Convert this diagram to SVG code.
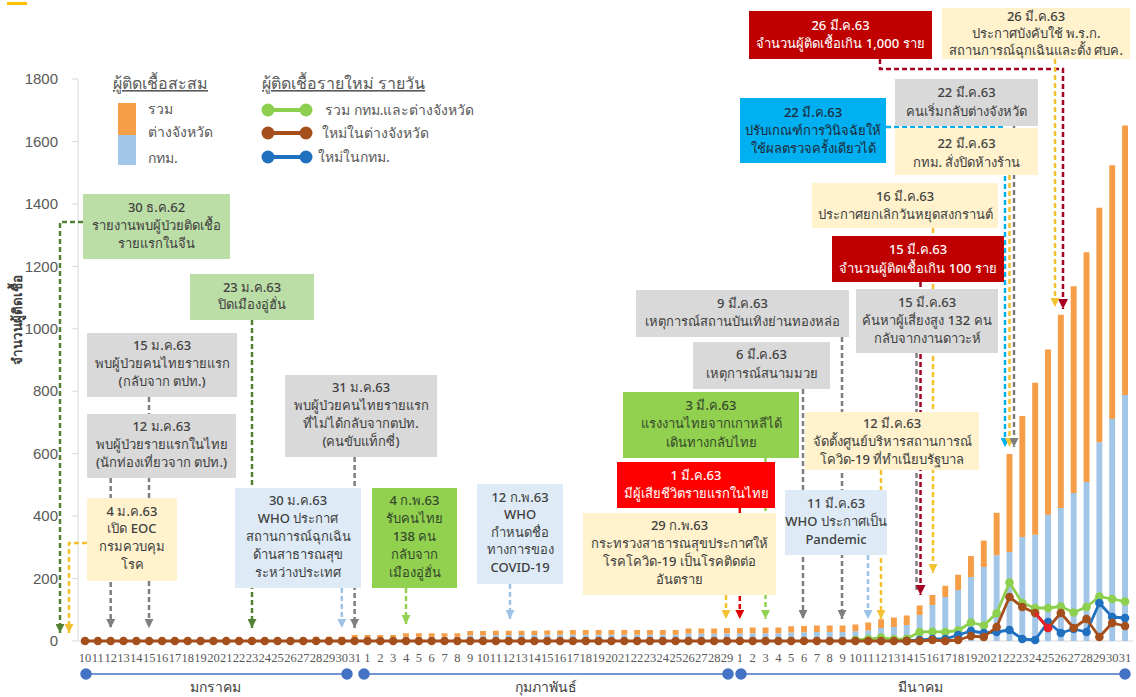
<svg xmlns="http://www.w3.org/2000/svg" width="1136" height="697" viewBox="0 0 1136 697">
<style>
.t{font-family:"Noto Sans","Liberation Sans",sans-serif;font-size:13px;font-weight:500;fill:#404040;text-anchor:middle}
.w{fill:#ffffff}
.ax{font-family:"Liberation Sans",sans-serif;font-size:15px;fill:#595959;text-anchor:end}
.xl{font-family:"Liberation Serif",serif;font-size:12.5px;fill:#595959;text-anchor:middle}
.lg{font-family:"Noto Sans","Liberation Sans",sans-serif;font-size:14px;fill:#595959}
.lt{font-family:"Noto Sans","Liberation Sans",sans-serif;font-size:16px;fill:#595959;text-decoration:underline}
.mo{font-family:"Noto Sans","Liberation Sans",sans-serif;font-size:14px;fill:#404040;text-anchor:middle}
.c{fill:none;stroke-width:2.5;stroke-dasharray:5 3}
.gr{fill:#BBDDA6}.gy{fill:#D9D9D9}.ye{fill:#FFF2CC}.lb{fill:#DEEBF7}.bg{fill:#92D050}.rd{fill:#FF0000}.dr{fill:#C00000}.cy{fill:#00B0F0}
</style>
<defs>
<marker id="a-dg" viewBox="0 0 10 10" refX="10" refY="5" markerUnits="userSpaceOnUse" markerWidth="9" markerHeight="9" orient="auto"><path d="M0,0L10,5L0,10z" fill="#548235"/></marker>
<marker id="a-ye" viewBox="0 0 10 10" refX="10" refY="5" markerUnits="userSpaceOnUse" markerWidth="9" markerHeight="9" orient="auto"><path d="M0,0L10,5L0,10z" fill="#F2C230"/></marker>
<marker id="a-gy" viewBox="0 0 10 10" refX="10" refY="5" markerUnits="userSpaceOnUse" markerWidth="9" markerHeight="9" orient="auto"><path d="M0,0L10,5L0,10z" fill="#7F7F7F"/></marker>
<marker id="a-lb" viewBox="0 0 10 10" refX="10" refY="5" markerUnits="userSpaceOnUse" markerWidth="9" markerHeight="9" orient="auto"><path d="M0,0L10,5L0,10z" fill="#9DC3E6"/></marker>
<marker id="a-bg" viewBox="0 0 10 10" refX="10" refY="5" markerUnits="userSpaceOnUse" markerWidth="9" markerHeight="9" orient="auto"><path d="M0,0L10,5L0,10z" fill="#92D050"/></marker>
<marker id="a-rd" viewBox="0 0 10 10" refX="10" refY="5" markerUnits="userSpaceOnUse" markerWidth="9" markerHeight="9" orient="auto"><path d="M0,0L10,5L0,10z" fill="#E00000"/></marker>
<marker id="a-dr" viewBox="0 0 10 10" refX="10" refY="5" markerUnits="userSpaceOnUse" markerWidth="10" markerHeight="10" orient="auto"><path d="M0,0L10,5L0,10z" fill="#A50021"/></marker>
<marker id="a-cy" viewBox="0 0 10 10" refX="10" refY="5" markerUnits="userSpaceOnUse" markerWidth="9" markerHeight="9" orient="auto"><path d="M0,0L10,5L0,10z" fill="#00B0F0"/></marker>
<marker id="d-g" markerUnits="userSpaceOnUse" markerWidth="10" markerHeight="10" refX="5" refY="5"><circle cx="5" cy="5" r="4.3" fill="#8DCF4E"/></marker>
<marker id="d-b" markerUnits="userSpaceOnUse" markerWidth="10" markerHeight="10" refX="5" refY="5"><circle cx="5" cy="5" r="4.3" fill="#2070C0"/></marker>
<marker id="d-o" markerUnits="userSpaceOnUse" markerWidth="10" markerHeight="10" refX="5" refY="5"><circle cx="5" cy="5" r="4.3" fill="#A44F1C"/></marker>
<marker id="d-r" markerUnits="userSpaceOnUse" markerWidth="10" markerHeight="10" refX="5" refY="5"><circle cx="5" cy="5" r="4.3" fill="#E8202A"/></marker>
</defs>
<rect width="1136" height="697" fill="#ffffff"/>
<rect x="7" y="2" width="20" height="3" fill="#FFC000"/>

<g id="axes">
<line x1="78" y1="79" x2="78" y2="641" stroke="#D9D9D9"/>
<line x1="78" y1="641" x2="1133" y2="641" stroke="#D9D9D9"/>
<path d="M72 79H78M72 141.5H78M72 203.9H78M72 266.4H78M72 328.8H78M72 391.2H78M72 453.7H78M72 516.1H78M72 578.6H78M72 641H78" stroke="#D9D9D9"/>
<text class="ax" x="58" y="84">1800</text>
<text class="ax" x="58" y="146.5">1600</text>
<text class="ax" x="58" y="209">1400</text>
<text class="ax" x="58" y="271.5">1200</text>
<text class="ax" x="58" y="334">1000</text>
<text class="ax" x="58" y="396">800</text>
<text class="ax" x="58" y="458.5">600</text>
<text class="ax" x="58" y="521">400</text>
<text class="ax" x="58" y="583.5">200</text>
<text class="ax" x="58" y="646">0</text>
<text transform="translate(22 320) rotate(-90)" style="font-family:'Noto Sans','Liberation Sans',sans-serif;font-size:13.5px;font-weight:700;fill:#404040;text-anchor:middle">จำนวนผู้ติดเชื้อ</text>
</g>

<g id="bars" transform="translate(85 641) scale(12.84 -0.3122)">
<path fill="#A2C6E8" d="M11.77 0h.46v2h-.46zM12.77 0h.46v2h-.46zM13.77 0h.46v3h-.46zM14.77 0h.46v4h-.46zM15.77 0h.46v5h-.46zM16.77 0h.46v5h-.46zM17.77 0h.46v8h-.46zM18.77 0h.46v8h-.46zM19.77 0h.46v8h-.46zM20.77 0h.46v11h-.46zM21.77 0h.46v11h-.46zM22.77 0h.46v11h-.46zM23.77 0h.46v11h-.46zM24.77 0h.46v14h-.46zM25.77 0h.46v14h-.46zM26.77 0h.46v14h-.46zM27.77 0h.46v14h-.46zM28.77 0h.46v14h-.46zM29.77 0h.46v18h-.46zM30.77 0h.46v18h-.46zM31.77 0h.46v19h-.46zM32.77 0h.46v19h-.46zM33.77 0h.46v19h-.46zM34.77 0h.46v19h-.46zM35.77 0h.46v20h-.46zM36.77 0h.46v20h-.46zM37.77 0h.46v20h-.46zM38.77 0h.46v20h-.46zM39.77 0h.46v20h-.46zM40.77 0h.46v20h-.46zM41.77 0h.46v20h-.46zM42.77 0h.46v20h-.46zM43.77 0h.46v20h-.46zM44.77 0h.46v20h-.46zM45.77 0h.46v20h-.46zM46.77 0h.46v23h-.46zM47.77 0h.46v23h-.46zM48.77 0h.46v23h-.46zM49.77 0h.46v24h-.46zM50.77 0h.46v24h-.46zM51.77 0h.46v25h-.46zM52.77 0h.46v25h-.46zM53.77 0h.46v25h-.46zM54.77 0h.46v27h-.46zM55.77 0h.46v28h-.46zM56.77 0h.46v29h-.46zM57.77 0h.46v29h-.46zM58.77 0h.46v29h-.46zM59.77 0h.46v31h-.46zM60.77 0h.46v34h-.46zM61.77 0h.46v42h-.46zM62.77 0h.46v45h-.46zM63.77 0h.46v51h-.46zM64.77 0h.46v83h-.46zM65.77 0h.46v115h-.46zM66.77 0h.46v141h-.46zM67.77 0h.46v163h-.46zM68.77 0h.46v205h-.46zM69.77 0h.46v237h-.46zM70.77 0h.46v275h-.46zM71.77 0h.46v285h-.46zM72.77 0h.46v333h-.46zM73.77 0h.46v340h-.46zM74.77 0h.46v404h-.46zM75.77 0h.46v426h-.46zM76.77 0h.46v474h-.46zM77.77 0h.46v509h-.46zM78.77 0h.46v637h-.46zM79.77 0h.46v711h-.46zM80.77 0h.46v788h-.46z"/>
<path fill="#F59E47" d="M11.77 2h.46v2h-.46zM12.77 2h.46v2h-.46zM13.77 3h.46v2h-.46zM14.77 4h.46v3h-.46zM15.77 5h.46v3h-.46zM16.77 5h.46v3h-.46zM17.77 8h.46v6h-.46zM18.77 8h.46v6h-.46zM19.77 8h.46v6h-.46zM20.77 11h.46v8h-.46zM21.77 11h.46v8h-.46zM22.77 11h.46v8h-.46zM23.77 11h.46v8h-.46zM24.77 14h.46v11h-.46zM25.77 14h.46v11h-.46zM26.77 14h.46v11h-.46zM27.77 14h.46v11h-.46zM28.77 14h.46v11h-.46zM29.77 18h.46v14h-.46zM30.77 18h.46v14h-.46zM31.77 19h.46v14h-.46zM32.77 19h.46v14h-.46zM33.77 19h.46v14h-.46zM34.77 19h.46v14h-.46zM35.77 20h.46v14h-.46zM36.77 20h.46v14h-.46zM37.77 20h.46v15h-.46zM38.77 20h.46v15h-.46zM39.77 20h.46v15h-.46zM40.77 20h.46v15h-.46zM41.77 20h.46v15h-.46zM42.77 20h.46v15h-.46zM43.77 20h.46v15h-.46zM44.77 20h.46v15h-.46zM45.77 20h.46v15h-.46zM46.77 23h.46v17h-.46zM47.77 23h.46v17h-.46zM48.77 23h.46v17h-.46zM49.77 24h.46v18h-.46zM50.77 24h.46v18h-.46zM51.77 25h.46v18h-.46zM52.77 25h.46v18h-.46zM53.77 25h.46v18h-.46zM54.77 27h.46v20h-.46zM55.77 28h.46v20h-.46zM56.77 29h.46v21h-.46zM57.77 29h.46v21h-.46zM58.77 29h.46v21h-.46zM59.77 31h.46v22h-.46zM60.77 34h.46v25h-.46zM61.77 42h.46v28h-.46zM62.77 45h.46v30h-.46zM63.77 51h.46v31h-.46zM64.77 83h.46v31h-.46zM65.77 115h.46v32h-.46zM66.77 141h.46v36h-.46zM67.77 163h.46v49h-.46zM68.77 205h.46v67h-.46zM69.77 237h.46v85h-.46zM70.77 275h.46v136h-.46zM71.77 285h.46v314h-.46zM72.77 333h.46v388h-.46zM73.77 340h.46v487h-.46zM74.77 404h.46v530h-.46zM75.77 426h.46v619h-.46zM76.77 474h.46v662h-.46zM77.77 509h.46v736h-.46zM78.77 637h.46v751h-.46zM79.77 711h.46v813h-.46zM80.77 788h.46v863h-.46z"/>
</g>

<g id="daily-lines" fill="none" stroke-width="2.8" stroke-linejoin="round">
<polyline stroke="#8DCF4E" marker-start="url(#d-g)" marker-mid="url(#d-g)" marker-end="url(#d-g)" points="855.4,640 868.24,639.1 881.08,637.6 893.92,639.4 906.76,638.8 919.6,632 932.44,631.7 945.28,632 958.12,630.5 970.96,622.5 983.8,625.5 996.64,613.2 1009.48,582.5 1022.32,603 1035.16,608 1048,608 1060.84,606.5 1073.68,612.5 1086.52,607 1099.36,596.5 1112.2,599 1125.04,601.5"/>
<polyline stroke="#2070C0" marker-start="url(#d-b)" marker-mid="url(#d-b)" marker-end="url(#d-b)" points="906.76,641 919.6,640 932.44,639 945.28,639 958.12,635 970.96,631 983.8,633 996.64,632 1009.48,630 1022.32,639 1035.16,640 1048,622 1060.84,633 1073.68,629 1086.52,632 1099.36,603 1112.2,617 1125.04,618"/>
<line x1="85" y1="641" x2="907" y2="641" stroke="#A44F1C"/>
<line x1="85" y1="641" x2="907.5" y2="641" stroke="#A44F1C" stroke-width="8.6" stroke-linecap="round" stroke-dasharray="0 12.84"/>
<polyline stroke="#A44F1C" marker-start="url(#d-o)" marker-mid="url(#d-o)" marker-end="url(#d-o)" points="906.76,641 919.6,641 932.44,640 945.28,641 958.12,640 970.96,636 983.8,637 996.64,627 1009.48,597 1022.32,607 1035.16,613 1048,628 1060.84,613 1073.68,628 1086.52,619 1099.36,637 1112.2,623 1125.04,626"/>
<line x1="1035.16" y1="613" x2="1048" y2="628" stroke="#E8202A" marker-end="url(#d-r)"/>
</g>

<g id="x-axis">
<text class="xl" x="85" y="662">10</text><text class="xl" x="97.84" y="662">11</text><text class="xl" x="110.68" y="662">12</text><text class="xl" x="123.52" y="662">13</text><text class="xl" x="136.36" y="662">14</text><text class="xl" x="149.2" y="662">15</text><text class="xl" x="162.04" y="662">16</text><text class="xl" x="174.88" y="662">17</text><text class="xl" x="187.72" y="662">18</text><text class="xl" x="200.56" y="662">19</text><text class="xl" x="213.4" y="662">20</text><text class="xl" x="226.24" y="662">21</text><text class="xl" x="239.08" y="662">22</text><text class="xl" x="251.92" y="662">23</text><text class="xl" x="264.76" y="662">24</text><text class="xl" x="277.6" y="662">25</text><text class="xl" x="290.44" y="662">26</text><text class="xl" x="303.28" y="662">27</text><text class="xl" x="316.12" y="662">28</text><text class="xl" x="328.96" y="662">29</text><text class="xl" x="341.8" y="662">30</text><text class="xl" x="354.64" y="662">31</text>
<text class="xl" x="367.48" y="662">1</text><text class="xl" x="380.32" y="662">2</text><text class="xl" x="393.16" y="662">3</text><text class="xl" x="406" y="662">4</text><text class="xl" x="418.84" y="662">5</text><text class="xl" x="431.68" y="662">6</text><text class="xl" x="444.52" y="662">7</text><text class="xl" x="457.36" y="662">8</text><text class="xl" x="470.2" y="662">9</text><text class="xl" x="483.04" y="662">10</text><text class="xl" x="495.88" y="662">11</text><text class="xl" x="508.72" y="662">12</text><text class="xl" x="521.56" y="662">13</text><text class="xl" x="534.4" y="662">14</text><text class="xl" x="547.24" y="662">15</text><text class="xl" x="560.08" y="662">16</text><text class="xl" x="572.92" y="662">17</text><text class="xl" x="585.76" y="662">18</text><text class="xl" x="598.6" y="662">19</text><text class="xl" x="611.44" y="662">20</text><text class="xl" x="624.28" y="662">21</text><text class="xl" x="637.12" y="662">22</text><text class="xl" x="649.96" y="662">23</text><text class="xl" x="662.8" y="662">24</text><text class="xl" x="675.64" y="662">25</text><text class="xl" x="688.48" y="662">26</text><text class="xl" x="701.32" y="662">27</text><text class="xl" x="714.16" y="662">28</text><text class="xl" x="727" y="662">29</text>
<text class="xl" x="739.84" y="662">1</text><text class="xl" x="752.68" y="662">2</text><text class="xl" x="765.52" y="662">3</text><text class="xl" x="778.36" y="662">4</text><text class="xl" x="791.2" y="662">5</text><text class="xl" x="804.04" y="662">6</text><text class="xl" x="816.88" y="662">7</text><text class="xl" x="829.72" y="662">8</text><text class="xl" x="842.56" y="662">9</text><text class="xl" x="855.4" y="662">10</text><text class="xl" x="868.24" y="662">11</text><text class="xl" x="881.08" y="662">12</text><text class="xl" x="893.92" y="662">13</text><text class="xl" x="906.76" y="662">14</text><text class="xl" x="919.6" y="662">15</text><text class="xl" x="932.44" y="662">16</text><text class="xl" x="945.28" y="662">17</text><text class="xl" x="958.12" y="662">18</text><text class="xl" x="970.96" y="662">19</text><text class="xl" x="983.8" y="662">20</text><text class="xl" x="996.64" y="662">21</text><text class="xl" x="1009.48" y="662">22</text><text class="xl" x="1022.32" y="662">23</text><text class="xl" x="1035.16" y="662">24</text><text class="xl" x="1048" y="662">25</text><text class="xl" x="1060.84" y="662">26</text><text class="xl" x="1073.68" y="662">27</text><text class="xl" x="1086.52" y="662">28</text><text class="xl" x="1099.36" y="662">29</text><text class="xl" x="1112.2" y="662">30</text><text class="xl" x="1125.04" y="662">31</text>
<g stroke="#4472C4" stroke-width="1.5" fill="#4472C4">
<line x1="86" y1="674" x2="347" y2="674"/><circle cx="86" cy="674" r="5"/><circle cx="347" cy="674" r="5"/>
<line x1="364" y1="674" x2="728" y2="674"/><circle cx="364" cy="674" r="5"/><circle cx="728" cy="674" r="5"/>
<line x1="741" y1="674" x2="1125" y2="674"/><circle cx="741" cy="674" r="5"/><circle cx="1125" cy="674" r="5"/>
</g>
<text class="mo" x="215" y="692">มกราคม</text>
<text class="mo" x="546" y="692">กุมภาพันธ์</text>
<text class="mo" x="920" y="692">มีนาคม</text>
</g>

<g id="legend">
<text class="lt" x="113" y="89">ผู้ติดเชื้อสะสม</text>
<rect x="118" y="103" width="18" height="32" fill="#F59E47"/>
<rect x="118" y="135" width="18" height="30" fill="#A2C6E8"/>
<text class="lg" x="148" y="114">รวม</text>
<text class="lg" x="148" y="137">ต่างจังหวัด</text>
<text class="lg" x="148" y="163">กทม.</text>
<text class="lt" x="262" y="89">ผู้ติดเชื้อรายใหม่ รายวัน</text>
<g stroke-width="4">
<line x1="268" y1="110" x2="306" y2="110" stroke="#8DCF4E"/><circle cx="268" cy="110" r="6.5" fill="#8DCF4E"/><circle cx="306" cy="110" r="6.5" fill="#8DCF4E"/>
<line x1="268" y1="133" x2="306" y2="133" stroke="#A44F1C"/><circle cx="268" cy="133" r="6.5" fill="#A44F1C"/><circle cx="306" cy="133" r="6.5" fill="#A44F1C"/>
<line x1="268" y1="157" x2="306" y2="157" stroke="#2070C0"/><circle cx="268" cy="157" r="6.5" fill="#2070C0"/><circle cx="306" cy="157" r="6.5" fill="#2070C0"/>
</g>
<text class="lg" x="325" y="115">รวม กทม.และต่างจังหวัด</text>
<text class="lg" x="322" y="138">ใหม่ในต่างจังหวัด</text>
<text class="lg" x="318" y="162">ใหม่ในกทม.</text>
</g>

<g id="connectors" class="c">
<path class="c" stroke="#548235" marker-end="url(#a-dg)" d="M83,222H60V633"/>
<path class="c" stroke="#F2C230" marker-end="url(#a-ye)" d="M87,543H69V633"/>
<path class="c" stroke="#7F7F7F" marker-end="url(#a-gy)" d="M110.7,478V628"/>
<path class="c" stroke="#7F7F7F" marker-end="url(#a-gy)" d="M149,397V628"/>
<path class="c" stroke="#548235" marker-end="url(#a-dg)" d="M252,320V628"/>
<path class="c" stroke="#9DC3E6" marker-end="url(#a-lb)" d="M341.8,588V628"/>
<path class="c" stroke="#7F7F7F" marker-end="url(#a-gy)" d="M354.6,457V628"/>
<path class="c" stroke="#92D050" marker-end="url(#a-bg)" d="M406,588V624"/>
<path class="c" stroke="#9DC3E6" marker-end="url(#a-lb)" d="M510,584V619"/>
<path class="c" stroke="#F2C230" marker-end="url(#a-ye)" d="M726,595V619"/>
<path class="c" stroke="#E00000" marker-end="url(#a-rd)" d="M739.8,508V619"/>
<path class="c" stroke="#92D050" marker-end="url(#a-bg)" d="M765.5,458V619"/>
<path class="c" stroke="#7F7F7F" marker-end="url(#a-gy)" d="M803,389V619"/>
<path class="c" stroke="#7F7F7F" marker-end="url(#a-gy)" d="M842,337V619"/>
<path class="c" stroke="#9DC3E6" marker-end="url(#a-lb)" d="M868,555V619"/>
<path class="c" stroke="#F2C230" marker-end="url(#a-ye)" d="M881,470V619"/>
<path class="c" stroke="#7F7F7F" d="M916.5,353V590"/>
<path class="c" stroke="#A50021" marker-end="url(#a-dr)" d="M920.5,282V595"/>
<path class="c" stroke="#F2C230" marker-end="url(#a-ye)" d="M933,228V573"/>
<path class="c" stroke="#00B0F0" marker-end="url(#a-cy)" d="M886,127H1005V447"/>
<path class="c" stroke="#F2C230" marker-end="url(#a-ye)" d="M1009.5,175V447"/>
<path class="c" stroke="#7F7F7F" marker-end="url(#a-gy)" d="M1014,126V447"/>
<path class="c" stroke="#A50021" stroke-width="3" stroke-dasharray="7 4" marker-end="url(#a-dr)" d="M880,59V69H1063V309"/>
<path class="c" stroke="#F2C230" marker-end="url(#a-ye)" d="M1055,59V307"/>
</g>

<g id="n-30dec"><rect class="gr" x="83" y="194" width="147" height="65"/><text class="t"><tspan x="156.5" y="212">30 ธ.ค.62</tspan><tspan x="156.5" y="230">รายงานพบผู้ป่วยติดเชื้อ</tspan><tspan x="156.5" y="248">รายแรกในจีน</tspan></text></g>
<g id="n-23jan"><rect class="gr" x="190" y="274" width="124" height="46"/><text class="t"><tspan x="252" y="292">23 ม.ค.63</tspan><tspan x="252" y="309">ปิดเมืองอู่ฮั่น</tspan></text></g>
<g id="n-15jan"><rect class="gy" x="87" y="333" width="150" height="64"/><text class="t"><tspan x="162" y="350">15 ม.ค.63</tspan><tspan x="162" y="368">พบผู้ป่วยคนไทยรายแรก</tspan><tspan x="162" y="386">(กลับจาก ตปท.)</tspan></text></g>
<g id="n-12jan"><rect class="gy" x="87" y="414" width="149" height="64"/><text class="t"><tspan x="161.5" y="431">12 ม.ค.63</tspan><tspan x="161.5" y="449">พบผู้ป่วยรายแรกในไทย</tspan><tspan x="161.5" y="467">(นักท่องเที่ยวจาก ตปท.)</tspan></text></g>
<g id="n-4jan"><rect class="ye" x="87" y="498" width="90" height="83"/><text class="t"><tspan x="132" y="516">4 ม.ค.63</tspan><tspan x="132" y="533">เปิด EOC</tspan><tspan x="132" y="551">กรมควบคุม</tspan><tspan x="132" y="569">โรค</tspan></text></g>
<g id="n-30jan"><rect class="lb" x="235" y="488" width="126" height="100"/><text class="t"><tspan x="298" y="505">30 ม.ค.63</tspan><tspan x="298" y="523">WHO ประกาศ</tspan><tspan x="298" y="541">สถานการณ์ฉุกเฉิน</tspan><tspan x="298" y="559">ด้านสาธารณสุข</tspan><tspan x="298" y="577">ระหว่างประเทศ</tspan></text></g>
<g id="n-31jan"><rect class="gy" x="285" y="375" width="152" height="82"/><text class="t"><tspan x="361" y="392">31 ม.ค.63</tspan><tspan x="361" y="410">พบผู้ป่วยคนไทยรายแรก</tspan><tspan x="361" y="428">ที่ไม่ได้กลับจากตปท.</tspan><tspan x="361" y="446">(คนขับแท็กซี่)</tspan></text></g>
<g id="n-4feb"><rect class="bg" x="372" y="488" width="85" height="100"/><text class="t" style="fill:#33482A"><tspan x="414.5" y="505">4 ก.พ.63</tspan><tspan x="414.5" y="523">รับคนไทย</tspan><tspan x="414.5" y="541">138 คน</tspan><tspan x="414.5" y="559">กลับจาก</tspan><tspan x="414.5" y="577">เมืองอู่ฮั่น</tspan></text></g>
<g id="n-12feb"><rect class="lb" x="477" y="484" width="86" height="100"/><text class="t"><tspan x="520" y="502">12 ก.พ.63</tspan><tspan x="520" y="519">WHO</tspan><tspan x="520" y="537">กำหนดชื่อ</tspan><tspan x="520" y="554">ทางการของ</tspan><tspan x="520" y="572">COVID-19</tspan></text></g>
<g id="n-29feb"><rect class="ye" x="583" y="513" width="193" height="82"/><text class="t"><tspan x="679.5" y="530">29 ก.พ.63</tspan><tspan x="679.5" y="548">กระทรวงสาธารณสุขประกาศให้</tspan><tspan x="679.5" y="566">โรคโควิด-19 เป็นโรคติดต่อ</tspan><tspan x="679.5" y="584">อันตราย</tspan></text></g>
<g id="n-1mar"><rect class="rd" x="617" y="462" width="158" height="46"/><text class="t w"><tspan x="696" y="480">1 มี.ค.63</tspan><tspan x="696" y="498">มีผู้เสียชีวิตรายแรกในไทย</tspan></text></g>
<g id="n-3mar"><rect class="bg" x="623" y="392" width="176" height="66"/><text class="t" style="fill:#33482A"><tspan x="711" y="410">3 มี.ค.63</tspan><tspan x="711" y="428">แรงงานไทยจากเกาหลีได้</tspan><tspan x="711" y="447">เดินทางกลับไทย</tspan></text></g>
<g id="n-6mar"><rect class="gy" x="693" y="342" width="137" height="47"/><text class="t"><tspan x="761.5" y="359">6 มี.ค.63</tspan><tspan x="761.5" y="378">เหตุการณ์สนามมวย</tspan></text></g>
<g id="n-9mar"><rect class="gy" x="636" y="290" width="213" height="47"/><text class="t"><tspan x="742.5" y="308">9 มี.ค.63</tspan><tspan x="742.5" y="326">เหตุการณ์สถานบันเทิงย่านทองหล่อ</tspan></text></g>
<g id="n-11mar"><rect class="lb" x="785" y="490" width="102" height="65"/><text class="t"><tspan x="836" y="508">11 มี.ค.63</tspan><tspan x="836" y="526">WHO ประกาศเป็น</tspan><tspan x="836" y="544">Pandemic</tspan></text></g>
<g id="n-12mar"><rect class="ye" x="805" y="412" width="174" height="58"/><text class="t"><tspan x="892" y="428">12 มี.ค.63</tspan><tspan x="892" y="446">จัดตั้งศูนย์บริหารสถานการณ์</tspan><tspan x="892" y="464">โควิด-19 ที่ทำเนียบรัฐบาล</tspan></text></g>
<g id="n-15mar-a"><rect class="gy" x="856" y="289" width="142" height="64"/><text class="t"><tspan x="927" y="307">15 มี.ค.63</tspan><tspan x="927" y="325">ค้นหาผู้เสี่ยงสูง 132 คน</tspan><tspan x="927" y="343">กลับจากงานดาวะห์</tspan></text></g>
<g id="n-15mar-b"><rect class="dr" x="832" y="236" width="172" height="46"/><text class="t w"><tspan x="918" y="254">15 มี.ค.63</tspan><tspan x="918" y="273">จำนวนผู้ติดเชื้อเกิน 100 ราย</tspan></text></g>
<g id="n-16mar"><rect class="ye" x="812" y="183" width="186" height="45"/><text class="t"><tspan x="905" y="201">16 มี.ค.63</tspan><tspan x="905" y="219">ประกาศยกเลิกวันหยุดสงกรานต์</tspan></text></g>
<g id="n-22mar-a"><rect class="ye" x="895" y="128" width="143" height="47"/><text class="t"><tspan x="966.5" y="148">22 มี.ค.63</tspan><tspan x="966.5" y="167">กทม. สั่งปิดห้างร้าน</tspan></text></g>
<g id="n-22mar-b"><rect class="gy" x="895" y="79" width="143" height="47"/><text class="t"><tspan x="966.5" y="97">22 มี.ค.63</tspan><tspan x="966.5" y="116">คนเริ่มกลับต่างจังหวัด</tspan></text></g>
<g id="n-22mar-c"><rect class="cy" x="740" y="98" width="146" height="65"/><text class="t" style="fill:#1E2A3A"><tspan x="813" y="117">22 มี.ค.63</tspan><tspan x="813" y="135">ปรับเกณฑ์การวินิจฉัยให้</tspan><tspan x="813" y="153">ใช้ผลตรวจครั้งเดียวได้</tspan></text></g>
<g id="n-26mar-a"><rect class="dr" x="749" y="11" width="183" height="48"/><text class="t w"><tspan x="840.5" y="30">26 มี.ค.63</tspan><tspan x="840.5" y="48">จำนวนผู้ติดเชื้อเกิน 1,000 ราย</tspan></text></g>
<g id="n-26mar-b"><rect class="ye" x="942" y="8" width="188" height="51"/><text class="t"><tspan x="1036" y="21">26 มี.ค.63</tspan><tspan x="1036" y="38">ประกาศบังคับใช้ พ.ร.ก.</tspan><tspan x="1036" y="55">สถานการณ์ฉุกเฉินและตั้ง ศบค.</tspan></text></g>
</svg>
